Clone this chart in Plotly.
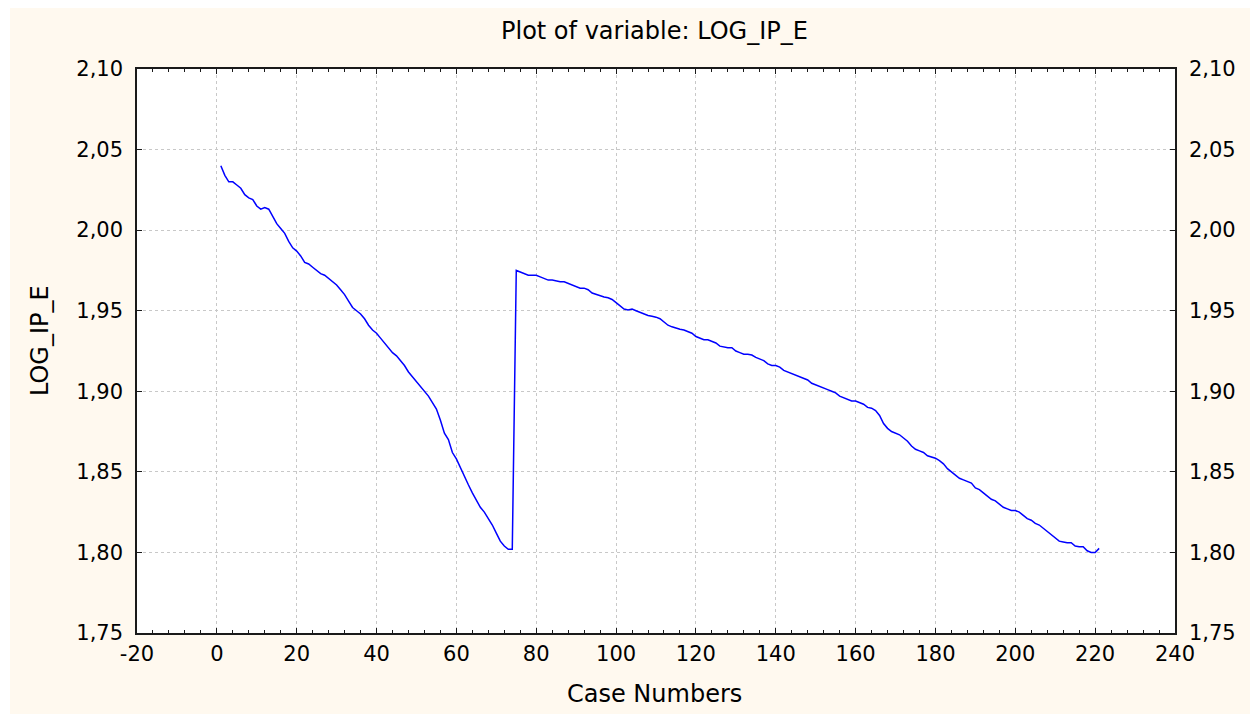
import plotly.graph_objects as go

# ---- data ----
case_numbers = list(range(1, 222))

log_ip_e = [
    2.040, 2.034, 2.030, 2.030, 2.028, 2.026, 2.022, 2.020, 2.019, 2.015,
    2.013, 2.014, 2.013, 2.008, 2.004, 2.001, 1.998, 1.993, 1.989, 1.987,
    1.984, 1.980, 1.979, 1.977, 1.975, 1.973, 1.972, 1.970, 1.968, 1.966,
    1.963, 1.960, 1.956, 1.952, 1.950, 1.948, 1.945, 1.941, 1.938, 1.936,
    1.933, 1.930, 1.927, 1.924, 1.922, 1.919, 1.916, 1.912, 1.909, 1.906,
    1.903, 1.900, 1.897, 1.893, 1.889, 1.882, 1.874, 1.870, 1.862, 1.858,
    1.853, 1.847, 1.842, 1.837, 1.832, 1.828, 1.825, 1.821, 1.817, 1.812,
    1.807, 1.804, 1.802, 1.802, 1.975, 1.974, 1.973, 1.972, 1.972, 1.972,
    1.971, 1.970, 1.969, 1.969, 1.9685, 1.968, 1.968, 1.967, 1.966, 1.965,
    1.964, 1.964, 1.963, 1.961, 1.960, 1.959, 1.9585, 1.958, 1.957, 1.955,
    1.953, 1.951, 1.9505, 1.951, 1.950, 1.949, 1.948, 1.947, 1.9465, 1.946,
    1.945, 1.943, 1.941, 1.940, 1.939, 1.9385, 1.938, 1.937, 1.936, 1.934,
    1.933, 1.932, 1.932, 1.931, 1.930, 1.928, 1.9275, 1.927, 1.927, 1.925,
    1.924, 1.923, 1.923, 1.9225, 1.921, 1.920, 1.919, 1.917, 1.916, 1.916,
    1.915, 1.913, 1.912, 1.911, 1.910, 1.909, 1.908, 1.907, 1.905, 1.904,
    1.903, 1.9025, 1.901, 1.900, 1.899, 1.897, 1.896, 1.895, 1.894, 1.894,
    1.893, 1.892, 1.890, 1.8895, 1.888, 1.885, 1.880, 1.877, 1.875, 1.874,
    1.873, 1.871, 1.869, 1.866, 1.864, 1.863, 1.862, 1.860, 1.859, 1.8585,
    1.857, 1.855, 1.852, 1.850, 1.848, 1.846, 1.845, 1.844, 1.843, 1.840,
    1.839, 1.837, 1.835, 1.833, 1.832, 1.830, 1.828, 1.827, 1.826, 1.826,
    1.825, 1.823, 1.821, 1.820, 1.818, 1.817, 1.815, 1.813, 1.811, 1.809,
    1.807, 1.8065, 1.806, 1.806, 1.804, 1.8035, 1.8035, 1.801, 1.800, 1.800,
    1.8025,
]

x_tick_values = [-20, 0, 20, 40, 60, 80, 100, 120, 140, 160, 180, 200, 220, 240]
x_tick_labels = ["-20", "0", "20", "40", "60", "80", "100", "120", "140",
                 "160", "180", "200", "220", "240"]
y_tick_values = [1.75, 1.80, 1.85, 1.90, 1.95, 2.00, 2.05, 2.10]

chart_title = "Plot of variable: LOG_IP_E"
x_title = "Case Numbers"
y_title = "LOG_IP_E"

# ---- styling ----
FONT = "DejaVu Sans"
CREAM = "#fff9ef"
AXIS = "#1a1a1a"
GRID = "#c8c8c8"
tick_font = dict(family=FONT, size=21, color="black")
title_font = dict(family=FONT, size=24, color="black")

fig = go.Figure()
fig.add_trace(go.Scatter(
    x=case_numbers, y=log_ip_e, mode="lines",
    line=dict(color="#0000ff", width=1.5),
    showlegend=False, hoverinfo="x+y",
))
# companion trace so the right-hand axis is drawn with labels
fig.add_trace(go.Scatter(
    x=case_numbers, y=log_ip_e, yaxis="y2", mode="lines",
    line=dict(color="rgba(0,0,0,0)", width=1),
    showlegend=False, hoverinfo="skip",
))

# the page body has an 8px margin, so the figure is 8px smaller than the window
fig.update_layout(
    width=1250, height=706, autosize=False,
    margin=dict(l=129, r=83, t=61, b=81, pad=0),
    paper_bgcolor=CREAM, plot_bgcolor="white",
    separators=", ",
    font=dict(family=FONT, size=21, color="black"),
    xaxis=dict(
        range=[-20, 240], tickmode="array", tickvals=x_tick_values,
        ticktext=x_tick_labels,
        ticks="inside", ticklen=5, tickwidth=1, tickcolor=AXIS,
        showline=True, linecolor=AXIS, linewidth=1.5, mirror="ticks",
        showgrid=True, gridcolor=GRID, griddash="dot", gridwidth=1,
        zeroline=False, tickfont=tick_font, ticklabelstandoff=1,
        minor=dict(tick0=0, dtick=4, ticks="inside", ticklen=3,
                   tickcolor=AXIS, showgrid=False),
    ),
    yaxis=dict(
        range=[1.75, 2.10], tickmode="array", tickvals=y_tick_values,
        tickformat=".2f",
        ticks="inside", ticklen=5, tickwidth=1, tickcolor=AXIS,
        showline=True, linecolor=AXIS, linewidth=1.5,
        showgrid=True, gridcolor=GRID, griddash="dot", gridwidth=1,
        zeroline=False, tickfont=tick_font, ticklabelstandoff=8,
    ),
    yaxis2=dict(
        range=[1.75, 2.10], tickmode="array", tickvals=y_tick_values,
        tickformat=".2f", overlaying="y", side="right",
        ticks="inside", ticklen=5, tickwidth=1, tickcolor=AXIS,
        showline=True, linecolor=AXIS, linewidth=1.5,
        showgrid=False, zeroline=False, tickfont=tick_font,
        ticklabelstandoff=8,
    ),
    shapes=[
        dict(type="rect", xref="paper", yref="paper", layer="below",
             x0=-0.14, x1=-0.1223, y0=-0.2, y1=1.2,
             fillcolor="white", line=dict(width=0)),
    ],
    annotations=[
        dict(text=chart_title, xref="paper", yref="paper", x=0.4985, y=1.0674,
             xanchor="center", yanchor="middle", showarrow=False,
             font=title_font),
        dict(text=x_title, xref="paper", yref="paper", x=0.4985, y=-0.108,
             xanchor="center", yanchor="middle", showarrow=False,
             font=title_font),
        dict(text=y_title, xref="paper", yref="paper", x=-0.0934, y=0.5177,
             xanchor="center", yanchor="middle", showarrow=False, textangle=-90,
             font=title_font),
    ],
)

fig.write_html("out.html")
